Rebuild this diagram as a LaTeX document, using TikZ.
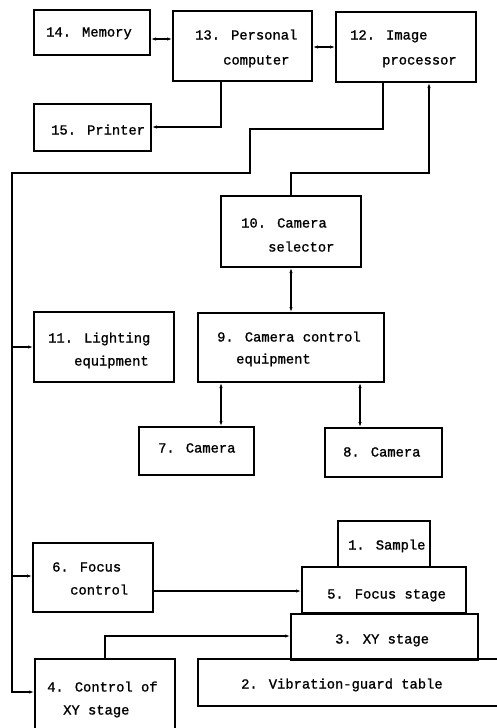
\documentclass[tikz,border=0pt]{standalone}
\usepackage{fontspec}
\setmainfont{Liberation Mono}[FakeBold=1.2]
\usetikzlibrary{arrows.meta,calc}
\begin{document}
\begin{tikzpicture}[x=1pt,y=-1pt,
  box/.style={draw,line width=1.7pt,inner sep=0pt,outer sep=0pt,rectangle},
  lbl/.style={anchor=base west,inner sep=0pt,font=\fontsize{13.8}{16}\selectfont},
  conn/.style={line width=1.5pt,>={Latex[length=6pt,width=3.2pt]}}]
\useasboundingbox (0,0) rectangle (496,728);
% boxes
\node[box,minimum width=116pt,minimum height=45pt] (b14) at (92,32.5) {};
\node[box,minimum width=139pt,minimum height=70pt] (b13) at (242.5,46) {};
\node[box,minimum width=140pt,minimum height=70pt] (b12) at (406,47) {};
\node[box,minimum width=117pt,minimum height=47pt] (b15) at (92.5,127.5) {};
\node[box,minimum width=140pt,minimum height=71pt] (b10) at (291,231.5) {};
\node[box,minimum width=140pt,minimum height=70pt] (b11) at (104,347) {};
\node[box,minimum width=186pt,minimum height=69pt] (b9) at (291,347.5) {};
\node[box,minimum width=115pt,minimum height=48pt] (b7) at (196.5,451) {};
\node[box,minimum width=117pt,minimum height=49pt] (b8) at (383.5,452.5) {};
\node[box,minimum width=92pt,minimum height=46pt] (b1) at (384,544) {};
\node[box,minimum width=120pt,minimum height=69pt] (b6) at (93,577.5) {};
\node[box,minimum width=164pt,minimum height=46pt] (b5) at (384,590) {};
\node[box,minimum width=187pt,minimum height=46pt] (b3) at (384.5,637) {};
\node[box,minimum width=322pt,minimum height=47pt] (b2) at (359,682.5) {};
\node[box,minimum width=140pt,minimum height=81pt] (b4) at (105,699.5) {};
% texts
\node[lbl] (t14) at (46,36.5) {14. Memory};
\node[lbl] (t13a) at (195,39.5) {13. Personal};
\node[lbl] (t13b) at (223,64.5) {computer};
\node[lbl] (t12a) at (350,39.5) {12. Image};
\node[lbl] (t12b) at (382,64.5) {processor};
\node[lbl] (t15) at (51,134.5) {15. Printer};
\node[lbl] (t10a) at (241,227.5) {10. Camera};
\node[lbl] (t10b) at (268,251.5) {selector};
\node[lbl] (t11a) at (48,342.5) {11. Lighting};
\node[lbl] (t11b) at (74,365.5) {equipment};
\node[lbl] (t9a) at (217,341.5) {9. Camera control};
\node[lbl] (t9b) at (236,363.5) {equipment};
\node[lbl] (t7) at (158,452.5) {7. Camera};
\node[lbl] (t8) at (343,456.5) {8. Camera};
\node[lbl] (t1) at (348,549.5) {1. Sample};
\node[lbl] (t6a) at (52,571.5) {6. Focus};
\node[lbl] (t6b) at (70,594.5) {control};
\node[lbl] (t5) at (327,598.5) {5. Focus stage};
\node[lbl] (t3) at (335,643.5) {3. XY stage};
\node[lbl] (t2) at (241,688.5) {2. Vibration-guard table};
\node[lbl] (t4a) at (47,691.5) {4. Control of};
\node[lbl] (t4b) at (63,714.5) {XY stage};
% bus coordinates
\coordinate (busTop) at (12,173);
\coordinate (busBot) at (12,692);
\coordinate (bus11) at (12,347);
\coordinate (bus6) at (12,576);
% connectors
\draw[conn,<->] (b14.east |- 0,39) -- (b13.west |- 0,39);
\draw[conn,<->] (b13.east |- 0,47) -- (b12.west |- 0,47);
\draw[conn,->] (b13.south -| 221,0) -- (221,127) -- (b15.east |- 0,127);
\draw[conn,->] (b12.south -| 383,0) -- (383,129) -- (250,129) -- (250,173) -- (busTop) -- (busBot) -- (b4.west |- busBot);
\draw[conn,->] (bus11) -- (b11.west |- bus11);
\draw[conn,->] (bus6) -- (b6.west |- bus6);
\draw[conn,<-] (b12.south -| 429,0) -- (429,173) -- (291,173) -- (b10.north);
\draw[conn,<->] (b10.south) -- (b9.north);
\draw[conn,<->] (b9.south -| 221,0) -- (b7.north -| 221,0);
\draw[conn,<->] (b9.south -| 360,0) -- (b8.north -| 360,0);
\draw[conn,->] (b6.east |- 0,591) -- (b5.west |- 0,591);
\draw[conn,->] (b4.north -| 105,0) -- (105,636) -- (b3.west |- 0,636);
\end{tikzpicture}
\end{document}
